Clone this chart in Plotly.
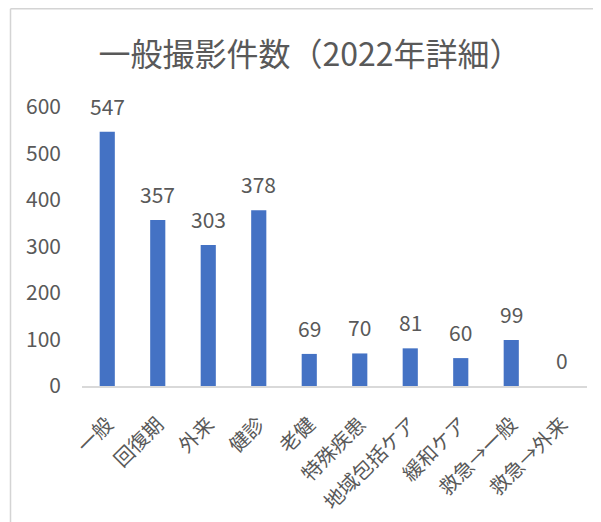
import plotly.graph_objects as go

categories = ["一般", "回復期", "外来", "健診", "老健", "特殊疾患", "地域包括ケア", "緩和ケア", "救急→一般", "救急→外来"]
counts = [547, 357, 303, 378, 69, 70, 81, 60, 99, 0]
y_ticks = [0, 100, 200, 300, 400, 500, 600]
title_text = "一般撮影件数（2022年詳細）"

FONT = "Noto Sans CJK JP, Noto Sans, sans-serif"
GREY = "#595959"
BLUE = "#4472C4"

# page body has an 8px default margin, so the figure is sized to fit the window
W, H = 593, 514
L, R, T, B = 74, 14, 99, 136
pw, ph = W - L - R, H - T - B

fig = go.Figure()
fig.add_trace(go.Bar(
    x=categories, y=counts,
    marker=dict(color=BLUE, line=dict(width=0)),
    hoverinfo="x+y",
))

for c, v in zip(categories, counts):
    fig.add_annotation(
        x=c, y=v, xref="x", yref="y",
        text=str(v), showarrow=False,
        yanchor="bottom", yshift=9,
        font=dict(family=FONT, size=21, color=GREY),
    )

def px_to_paper_x(px):
    return (px - L) / pw

def px_to_paper_y(py):
    return (H - B - py) / ph

frame = dict(color="#D4D4D4", width=1.5)
fig.add_shape(type="line", xref="paper", yref="paper",
              x0=px_to_paper_x(2.5), x1=px_to_paper_x(W + 5),
              y0=px_to_paper_y(0.8), y1=px_to_paper_y(0.8), line=frame)
fig.add_shape(type="line", xref="paper", yref="paper",
              x0=px_to_paper_x(2.5), x1=px_to_paper_x(2.5),
              y0=px_to_paper_y(0.8), y1=px_to_paper_y(H + 5), line=frame)

fig.update_layout(
    width=W, height=H,
    margin=dict(l=L, r=R, t=T, b=B, autoexpand=False),
    paper_bgcolor="white", plot_bgcolor="white",
    showlegend=False,
    bargap=0.70,
    font=dict(family=FONT, color=GREY),
    title=dict(text=title_text, x=(302 - L) / pw, xref="paper", xanchor="center",
               y=(H - 47) / H, yref="container", yanchor="middle",
               font=dict(family=FONT, size=32, color=GREY)),
    xaxis=dict(
        type="category", range=[-0.5, 9.5],
        showgrid=False, zeroline=False,
        showline=True, linecolor="#D9D9D9", linewidth=1.5,
        ticks="", tickangle=-45, ticklabelstandoff=17,
        tickfont=dict(family=FONT, size=20, color=GREY),
        automargin=False,
    ),
    yaxis=dict(
        range=[0, 600], tickvals=y_ticks,
        showgrid=False, zeroline=False, showline=False,
        ticks="", ticklabelstandoff=20,
        tickfont=dict(family=FONT, size=21, color=GREY),
        automargin=False,
    ),
)

fig.write_html("out.html")
